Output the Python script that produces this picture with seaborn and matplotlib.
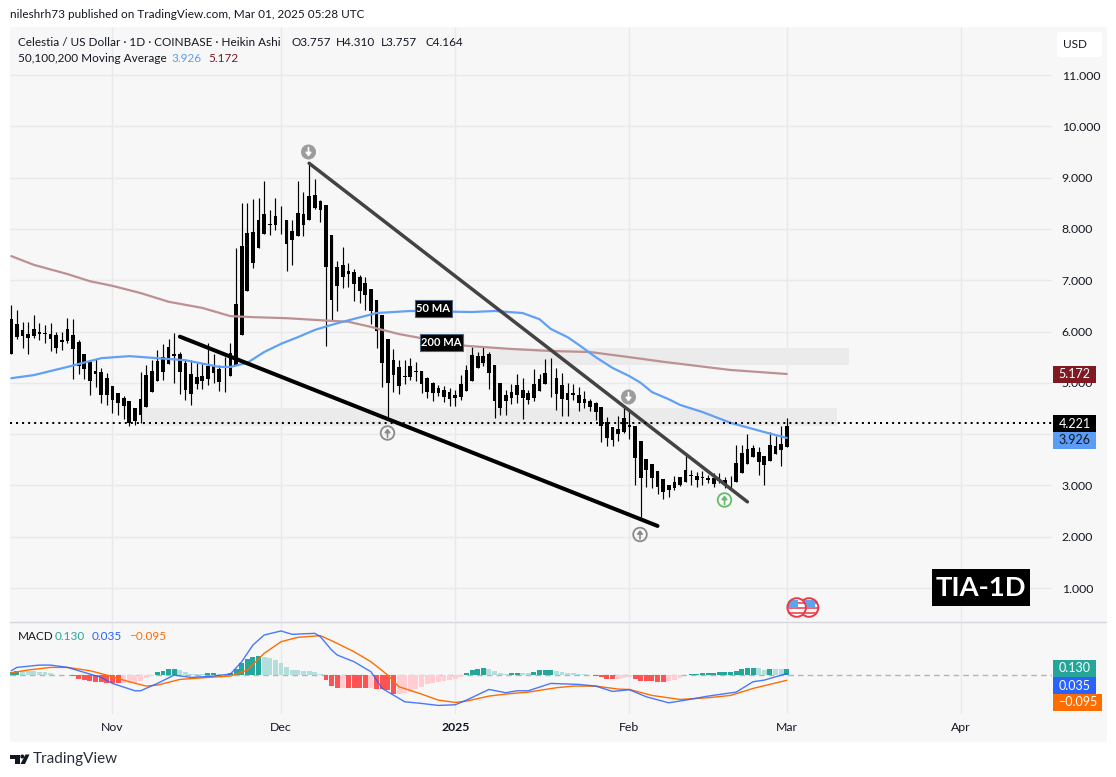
import numpy as np
import pandas as pd
import matplotlib
matplotlib.use("Agg")
import matplotlib.pyplot as plt
from matplotlib.patches import Rectangle, Circle, FancyBboxPatch, Polygon
import seaborn as sns

# ---- data ----
start_day = pd.Timestamp("2024-10-14")

# Heikin Ashi candles, all drawn black
wick_high = [6.52,6.42,6.18,6.18,6.33,6.16,6.13,6.16,5.99,5.99,6.27,6.24,5.83,5.56,5.41,5.47,5.29,5.19,4.93,4.81,
             4.74,4.64,4.50,5.21,5.34,5.44,5.64,5.75,5.86,5.98,5.60,5.47,5.45,5.38,5.39,5.78,5.57,5.34,5.51,5.78,
             7.62,8.51,8.50,8.59,8.61,8.93,8.37,8.61,8.44,8.17,8.17,8.93,8.71,9.26,8.98,8.56,8.46,7.88,7.37,7.64,
             7.33,7.22,7.10,7.07,6.82,6.62,6.32,5.85,5.65,5.44,5.44,5.49,5.41,5.23,5.12,5.02,4.95,4.94,4.89,4.86,
             5.15,5.34,5.70,5.60,5.69,5.60,5.34,5.00,4.86,4.97,5.17,5.10,4.86,5.26,5.18,5.47,5.49,5.28,5.20,5.00,
             4.97,4.92,4.84,4.69,4.63,4.53,4.34,4.13,4.35,4.55,4.47,4.16,3.87,3.51,3.42,3.29,3.12,3.01,3.18,3.16,
             3.57,3.31,3.27,3.29,3.21,3.25,3.24,3.16,3.18,3.79,3.79,4.00,3.79,3.74,3.57,4.05,3.97,4.16,4.31]
body_high = [6.24,6.15,6.03,5.96,6.04,5.99,5.97,5.96,5.93,5.84,6.05,5.93,5.80,5.56,5.40,5.23,5.21,5.09,4.93,4.81,
             4.71,4.64,4.50,4.68,5.15,5.24,5.42,5.50,5.69,5.57,5.56,5.39,5.18,5.11,5.13,5.33,5.33,5.26,5.16,5.58,
             6.53,7.66,7.92,7.94,8.17,8.29,8.09,8.25,8.16,8.17,7.96,8.31,8.29,8.64,8.66,8.54,8.46,7.88,7.25,7.29,
             7.18,7.16,7.07,6.94,6.82,6.62,6.32,5.85,5.44,5.30,5.13,5.32,5.23,5.23,5.10,4.99,4.89,4.86,4.83,4.76,
             4.97,5.25,5.54,5.52,5.52,5.57,5.34,5.00,4.76,4.82,4.95,4.86,4.81,4.97,5.08,5.20,5.10,5.10,4.96,4.80,
             4.80,4.77,4.69,4.65,4.61,4.52,4.23,4.13,4.10,4.31,4.18,4.16,3.87,3.51,3.42,3.29,3.12,3.01,3.07,3.16,
             3.30,3.20,3.18,3.16,3.15,3.15,3.10,3.10,3.09,3.43,3.63,3.71,3.72,3.65,3.57,3.79,3.77,3.80,4.16]
body_low = [5.57,5.90,5.92,5.88,5.91,5.95,5.95,5.86,5.68,5.80,5.82,5.65,5.32,5.26,5.04,5.18,4.77,4.76,4.67,4.61,
            4.54,4.22,4.26,4.37,4.53,4.82,5.04,5.21,5.36,5.52,5.21,4.86,4.78,4.97,5.03,5.07,5.19,5.02,5.15,5.13,
            5.34,5.93,6.79,7.33,7.63,7.90,8.08,8.07,8.16,7.70,7.78,7.86,8.07,8.17,8.40,8.37,7.26,6.61,6.89,7.07,
            7.12,6.93,6.79,6.71,6.40,6.01,5.39,5.00,5.15,4.94,5.12,5.12,5.22,4.98,4.82,4.80,4.80,4.73,4.69,4.71,
            4.73,4.84,5.04,5.28,5.39,5.19,4.64,4.51,4.65,4.70,4.76,4.71,4.66,4.71,4.84,4.97,5.09,4.78,4.68,4.67,
            4.77,4.61,4.61,4.52,4.44,4.15,3.92,3.89,4.00,4.05,4.13,3.54,3.14,3.31,3.14,2.96,2.88,2.91,2.95,3.00,
            3.07,3.18,3.10,3.15,3.10,3.03,3.09,3.03,3.08,3.07,3.25,3.42,3.56,3.45,3.40,3.48,3.61,3.69,3.74]
wick_low = [5.57,5.85,5.68,5.56,5.87,5.83,5.77,5.62,5.58,5.64,5.78,5.08,5.17,5.08,4.76,4.92,4.61,4.56,4.41,4.37,
            4.30,4.16,4.17,4.21,4.53,4.82,5.04,5.05,5.36,5.00,4.79,4.67,4.56,4.87,4.87,4.95,5.00,4.84,4.82,5.13,
            5.34,5.93,6.79,7.23,7.63,7.90,7.88,7.98,7.90,7.18,7.29,7.86,7.86,8.17,8.38,8.13,5.71,6.22,6.40,6.84,
            6.87,6.59,6.55,6.42,6.14,5.68,4.92,4.34,4.82,4.79,4.97,5.05,5.04,4.80,4.71,4.64,4.74,4.63,4.55,4.55,
            4.67,4.84,5.04,5.28,5.32,4.87,4.32,4.37,4.37,4.58,4.60,4.29,4.58,4.64,4.84,4.97,4.73,4.47,4.35,4.35,
            4.67,4.45,4.50,4.45,4.27,3.85,3.76,3.77,3.87,4.03,3.90,3.01,2.38,2.96,2.94,2.83,2.73,2.78,2.91,2.99,
            3.07,3.00,2.96,3.00,3.05,2.97,3.04,2.94,2.92,3.07,3.25,3.42,3.56,3.20,3.01,3.48,3.61,3.38,3.74]

# moving averages, read at the days listed
ma50_day = [0,4,10,16,21,26,31,37,39,42,45,48,51,54,57,59,65,71,82,86,91,94,96,99,101,104,107,110,112,114,117,119,123,128,134,138]
ma50_val = [5.09,5.15,5.31,5.48,5.52,5.48,5.44,5.31,5.31,5.39,5.60,5.76,5.89,6.03,6.13,6.19,6.36,6.40,6.38,6.40,6.36,6.24,6.05,5.89,
            5.74,5.50,5.29,5.13,5.00,4.82,4.68,4.57,4.43,4.22,4.04,3.926]
ma200_day = [0,4,10,14,18,23,28,34,39,43,49,55,60,64,69,73,81,89,96,103,110,116,122,128,138]
ma200_val = [7.47,7.30,7.12,6.98,6.89,6.75,6.58,6.46,6.30,6.28,6.26,6.22,6.19,6.09,5.95,5.87,5.72,5.66,5.62,5.60,
             5.50,5.41,5.33,5.25,5.172]

# MACD pane
hist_val = [.060,.095,.090,.088,.084,.068,.065,.045,.013,.006,.008,-.019,-.065,-.084,-.110,-.123,-.129,-.142,-.155,-.156,
            -.155,-.154,-.149,-.110,-.052,-.006,.058,.084,.116,.117,.104,.065,.032,.026,.025,.045,.046,.019,.013,.039,
            .123,.233,.311,.362,.382,.362,.330,.298,.246,.155,.104,.103,.084,.083,.071,.026,-.091,-.207,-.239,-.238,
            -.239,-.240,-.241,-.242,-.241,-.259,-.272,-.291,-.356,-.355,-.337,-.324,-.272,-.226,-.175,-.155,-.129,-.116,-.091,-.065,
            -.032,.052,.104,.129,.142,.129,.084,.045,.026,.045,.046,.045,.044,.071,.097,.110,.111,.078,.065,.052,
            .045,.026,.019,.006,-.013,-.032,-.078,-.079,-.065,-.052,-.026,-.078,-.104,-.105,-.110,-.123,-.129,-.104,-.084,-.045,
            -.001,.026,.027,.039,.045,.046,.065,.066,.067,.084,.129,.142,.143,.142,.110,.129,.123,.122,.130]
macd_day = [0,1,5,7,10,16,18,22,23,26,29,32,36,39,41,43,45,48,50,54,55,57,58,61,64,66,69,70,73,76,79,81,85,88,90,92,
            96,101,104,107,110,113,117,120,124,129,132,134,138]
macd_val = [.091,.155,.20,.20,.155,-.039,-.155,-.298,-.298,-.155,.006,-.039,-.013,.026,.265,.589,.783,.861,.796,.815,
            .751,.492,.395,.265,.071,-.252,-.446,-.511,-.543,-.582,-.569,-.479,-.272,-.336,-.298,-.298,-.155,-.175,-.207,-.311,
            -.278,-.414,-.531,-.479,-.401,-.324,-.123,-.091,.035]
signal_day = [0,3,7,10,14,17,21,24,26,30,35,39,42,45,48,51,55,57,61,64,67,69,73,76,79,81,85,88,92,97,100,104,108,110,
              114,119,124,128,132,138]
signal_val = [.052,.104,.155,.155,.091,.006,-.123,-.207,-.188,-.078,-.039,-.013,.104,.427,.653,.738,.770,.673,.459,.265,
              .006,-.220,-.362,-.479,-.524,-.498,-.401,-.362,-.324,-.239,-.207,-.207,-.265,-.272,-.388,-.466,-.433,-.388,-.252,-.095]

price_ticks = [1, 2, 3, 4, 5, 6, 7, 8, 9, 10, 11]
month_names = ["Nov", "Dec", "2025", "Feb", "Mar", "Apr"]
month_days = ["2024-11-01", "2024-12-01", "2025-01-01", "2025-02-01", "2025-03-01", "2025-04-01"]

last_close_line = 4.221
zone_low = [4.16, 5.35]
zone_high = [4.51, 5.68]
zone_from = [23, 81]
zone_to = [147, 149]
falling_line_day = [53, 131]
falling_line_val = [9.28, 2.68]
support_line_day = [30, 115]
support_line_val = [5.90, 2.21]

# ---- setup ----
W, H = 1116, 777
sns.set_style("white")
plt.rcParams["font.family"] = ["Lato", "DejaVu Sans"]
INK = "#131722"
GRID = "#e9e9ea"
TEAL, BLUE, ORANGE = "#26a69a", "#2962ff", "#ff6d00"
TXT = 8.5

fig = plt.figure(figsize=(W / 100, H / 100), dpi=100, facecolor="white")

def pane(left, top, right, bottom, z):
    return fig.add_axes([left / W, 1 - bottom / H, (right - left) / W, (bottom - top) / H], zorder=z)

# background and overlay both work in screen pixels
bg = pane(0, 0, W, H, 0)
bg.set_xlim(0, W); bg.set_ylim(H, 0); bg.axis("off")
bg.add_patch(Rectangle((9.5, 27), 1097, 714.5, fc="#f7f7f7", ec="none"))

ax = pane(10, 27, 1052, 621, 1)
mx = pane(10, 622, 1052, 714, 1)
top = pane(0, 0, W, H, 5)
top.set_xlim(0, W); top.set_ylim(H, 0); top.axis("off")

days = np.arange(len(wick_high))
xlim = (-0.23, 185.2)
tick_pos = [(pd.Timestamp(d) - start_day).days for d in month_days]

# ---- price pane ----
for lo, hi, a, b in zip(zone_low, zone_high, zone_from, zone_to):
    ax.add_patch(Rectangle((a, lo), b - a, hi - lo, fc="#ebebeb", ec="none", zorder=1))

ax.vlines(days, wick_low, wick_high, color="black", lw=0.85, zorder=3)
ax.bar(days, np.array(body_high) - np.array(body_low), bottom=body_low, width=0.66, color="black", lw=0, zorder=3)

sns.lineplot(x=ma200_day, y=ma200_val, color="#bd9191", lw=1.6, ax=ax, zorder=4, errorbar=None)
sns.lineplot(x=ma50_day, y=ma50_val, color="#62a0f5", lw=1.6, ax=ax, zorder=4, errorbar=None)
sns.lineplot(x=falling_line_day, y=falling_line_val, color="#434343", lw=2.5, ax=ax, zorder=5, errorbar=None)
sns.lineplot(x=support_line_day, y=support_line_val, color="black", lw=2.9, ax=ax, zorder=5, errorbar=None)
ax.axhline(last_close_line, color="black", lw=1.45, ls=(0, (1, 2)), zorder=6)

ax.set_xlim(*xlim)
ax.set_ylim(0.357, 11.936)
ax.set_xticks(tick_pos)
ax.set_yticks(price_ticks)
# 4.000 sits fully behind the last-price badges
ax.set_yticklabels(["" if p == 4 else f"{p:.3f}" for p in price_ticks], fontsize=TXT + 0.3, color=INK)
ax.yaxis.tick_right()
ax.tick_params(axis="y", length=0, pad=7)
ax.tick_params(axis="x", length=0, labelbottom=False)
ax.grid(True, color=GRID, lw=1)
ax.set_axisbelow(True)
ax.set_facecolor("none")
sns.despine(ax=ax, left=True, bottom=True, right=True, top=True)

# ---- MACD pane ----
hist = np.array(hist_val)
prev = np.r_[0, hist[:-1]]
shade = np.where(hist >= 0, np.where(hist >= prev, "up_strong", "up_weak"), np.where(hist < prev, "down_strong", "down_weak"))
hist_colors = {"up_strong": TEAL, "up_weak": "#b2dfdb", "down_strong": "#ff5252", "down_weak": "#ffcdd2"}
sns.barplot(x=days, y=hist, hue=shade, palette=hist_colors, native_scale=True, dodge=False, width=0.88,
            saturation=1, legend=False, errorbar=None, linewidth=0, ax=mx, zorder=2)
mx.axhline(0, color="#b4b4b4", lw=1, ls=(0, (4, 3)), zorder=1)
sns.lineplot(x=signal_day, y=signal_val, color=ORANGE, lw=1.0, ax=mx, zorder=3, errorbar=None)
sns.lineplot(x=macd_day, y=macd_val, color=BLUE, lw=1.0, ax=mx, zorder=3, errorbar=None, alpha=0.85)
mx.set_xlim(*xlim)
mx.set_ylim(-0.748, 1.035)
mx.set_yticks([])
mx.set_xticks(tick_pos)
mx.set_xticklabels(month_names, fontsize=TXT + 0.3, color=INK)
mx.get_xticklabels()[2].set_fontweight("bold")
mx.tick_params(axis="x", length=0, pad=6)
mx.grid(True, axis="x", color=GRID, lw=1)
mx.set_axisbelow(True)
mx.set_xlabel("")
mx.set_ylabel("")
mx.set_facecolor("none")
sns.despine(ax=mx, left=True, bottom=True, right=True, top=True)

# ---- overlay text and badges ----
def label(x, y, s, color=INK, size=TXT, **kw):
    kw.setdefault("va", "center")
    top.text(x, y, s, color=color, fontsize=size, **kw)

def box_label(x0, y0, x1, y1, s, fc, color="white"):
    top.add_patch(Rectangle((x0, y0), x1 - x0, y1 - y0, fc=fc, ec="none"))
    label((x0 + x1) / 2, (y0 + y1) / 2, s, color=color, size=TXT + 0.5, ha="center")

top.plot([10, 1106], [621.5, 621.5], color="#d6d6de", lw=1)

label(10, 15, "nileshrh73 published on TradingView.com, Mar 01, 2025 05:28 UTC")
label(18, 42, "Celestia / US Dollar · 1D · COINBASE · Heikin Ashi")
for x, s in zip([291, 336, 381, 426], ["O3.757", "H4.310", "L3.757", "C4.164"]):
    label(x, 42, s)
label(18, 59, "50,100,200 Moving Average")
label(171, 59, "3.926", color="#5b9cf6")
label(208, 59, "5.172", color="#801922")

label(18, 637, "MACD")
label(55, 637, "0.130", color=TEAL)
label(92, 637, "0.035", color=BLUE)
label(129, 637, "\u22120.095", color=ORANGE)

top.add_patch(FancyBboxPatch((1057, 32), 45, 25, boxstyle="round,pad=0,rounding_size=3", fc="white", ec="none"))
label(1075.5, 44.5, "USD", ha="center")

box_label(1053, 366, 1096, 382.7, "5.172", "#801922")
box_label(1053, 415, 1096, 432, "4.221", "black")
box_label(1053, 432, 1096, 449, "3.926", "#5b9cf6", color=INK)
box_label(1053, 660, 1096, 677, "0.130", TEAL)
box_label(1053, 677, 1096, 694, "0.035", BLUE)
box_label(1053, 694, 1102, 711, "\u22120.095", ORANGE)

for x0, y0, x1, y1, s in [(415, 300, 452, 316.5, "50 MA"), (420, 334, 463, 351, "200 MA")]:
    top.add_patch(Rectangle((x0, y0), x1 - x0, y1 - y0, fc="black", ec="#4a6580", lw=0.8))
    label((x0 + x1) / 2, (y0 + y1) / 2, s, color="white", size=8, ha="center", fontweight="bold")

top.add_patch(Rectangle((932, 569), 98, 36.7, fc="black", ec="none"))
label(981, 587.5, "TIA-1D", color="white", size=19.7, ha="center", fontweight="bold")

# pivot markers
def pivot(x, y, color, filled, down):
    if filled:
        top.add_patch(Circle((x, y), 7.5, fc=color, ec="none"))
        arrow_color = "white"
    else:
        top.add_patch(Circle((x, y), 6.8, fc="none", ec=color, lw=1.3))
        arrow_color = color
    a, b = (y - 4.5, y + 4.5) if down else (y + 4.5, y - 4.5)
    top.annotate("", xy=(x, b), xytext=(x, a),
                 arrowprops=dict(arrowstyle="-|>,head_width=0.16,head_length=0.2", color=arrow_color, lw=1.2,
                                 shrinkA=0, shrinkB=0))

pivot(308.5, 152, "#9c9c9c", True, True)
pivot(628.5, 397, "#9c9c9c", True, True)
pivot(387.5, 433, "#8a8a8a", False, False)
pivot(640, 534.5, "#8a8a8a", False, False)
pivot(724.5, 500, "#66bb6a", False, False)

# US flag badges for the calendar events
def flag(cx, cy, canton_w):
    disc = Circle((cx, cy), 10, fc="white", ec="none")
    top.add_patch(disc)
    for dy in [-6, -1, 4]:
        r = Rectangle((cx - 9, cy + dy), 18, 2.6, fc="#f0626e", ec="none")
        top.add_patch(r)
        r.set_clip_path(disc)
    c = Rectangle((cx - 9, cy - 8), canton_w, 8, fc="#5ea5ee", ec="none")
    top.add_patch(c)
    c.set_clip_path(disc)
    top.add_patch(Circle((cx, cy), 9.3, fc="none", ec="#f23645", lw=1.4))

flag(809, 607.5, 15)
flag(796.7, 607.5, 10.5)

# TradingView footer
top.add_patch(Polygon([(10, 754.5), (19.5, 754.5), (19.5, 764), (14.5, 764), (14.5, 758.5), (10, 758.5)], fc=INK, ec="none"))
top.add_patch(Circle((22.3, 756.5), 2, fc=INK, ec="none"))
top.add_patch(Polygon([(25.5, 754.5), (29.5, 754.5), (25, 764), (20.5, 764)], fc=INK, ec="none"))
label(33, 759.5, "TradingView", size=11, color="#2a2e39")

fig.savefig("out.png", dpi=100, facecolor="white")
